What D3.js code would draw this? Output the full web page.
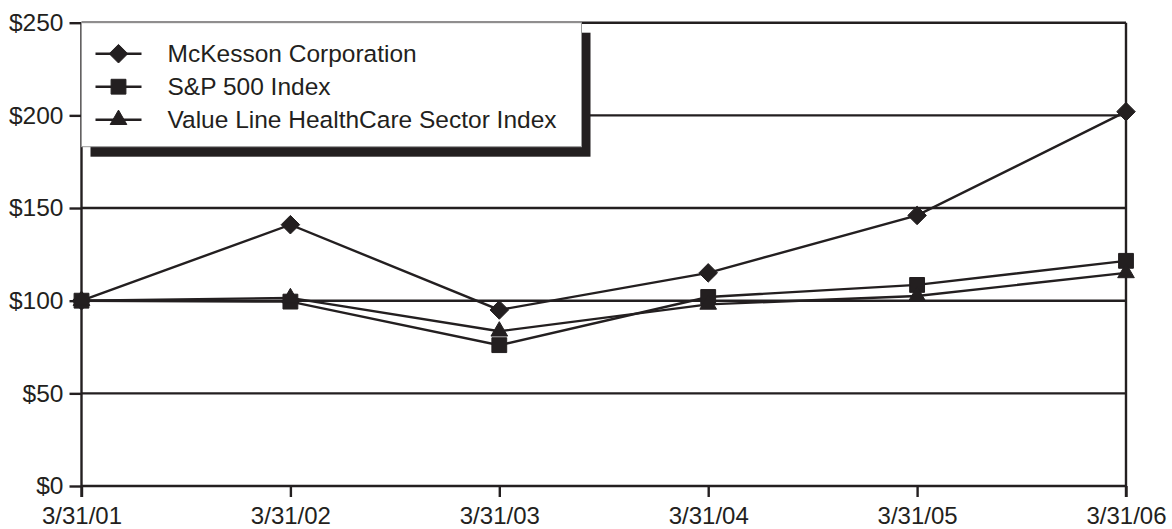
<!DOCTYPE html>
<html>
<head>
<meta charset="utf-8">
<script src="https://cdn.jsdelivr.net/npm/d3@7"></script>
<style>
  body { margin: 0; background: #fff; }
  svg text { font-family: "Liberation Sans", Arial, Helvetica, sans-serif; fill: #231f20; }
</style>
</head>
<body>
<svg id="chart" width="1172" height="529"></svg>
<script>
// Data (value of $100 invested on 3/31/01)
const dates = ["3/31/01", "3/31/02", "3/31/03", "3/31/04", "3/31/05", "3/31/06"]
const mckesson = [100, 141, 95, 115, 146, 202]
const sp500 = [100, 99.5, 76, 102, 108.5, 121.5]
const valueLine = [100, 101.5, 83.5, 98, 102.5, 115]
const yTicks = [0, 50, 100, 150, 200, 250]
const seriesNames = ["McKesson Corporation", "S&P 500 Index", "Value Line HealthCare Sector Index"]

const ink = "#231f20"
const series = [
  { name: seriesNames[0], values: mckesson, symbol: d3.symbolDiamond2, size: 220 },
  { name: seriesNames[1], values: sp500, symbol: d3.symbolSquare, size: 220 },
  { name: seriesNames[2], values: valueLine, symbol: d3.symbolTriangle, size: 120 }
]

const margin = { top: 22.7, right: 46, bottom: 43, left: 81.5 }
const svg = d3.select("#chart")
const width = +svg.attr("width") - margin.left - margin.right
const height = +svg.attr("height") - margin.top - margin.bottom

const g = svg.append("g").attr("transform", `translate(${margin.left},${margin.top})`)

const x = d3.scalePoint().domain(dates).range([0, width])
const y = d3.scaleLinear().domain([0, 250]).range([height, 0])

// Horizontal grid lines
g.append("g")
  .selectAll("line")
  .data(yTicks)
  .join("line")
  .attr("x1", 0).attr("x2", width)
  .attr("y1", d => y(d)).attr("y2", d => y(d))
  .attr("stroke", ink).attr("stroke-width", 2.4)

// Left and right vertical borders
g.append("line").attr("x1", 0).attr("x2", 0).attr("y1", 0).attr("y2", height + 11)
  .attr("stroke", ink).attr("stroke-width", 2.4)
g.append("line").attr("x1", width).attr("x2", width).attr("y1", 0).attr("y2", height + 11)
  .attr("stroke", ink).attr("stroke-width", 2.4)

// Y axis
const yAxis = g.append("g")
  .call(d3.axisLeft(y).tickValues(yTicks).tickSize(12).tickSizeOuter(0).tickPadding(6).tickFormat(d => "$" + d))
yAxis.select(".domain").remove()
yAxis.selectAll(".tick line").attr("stroke", ink).attr("stroke-width", 2.4)
yAxis.selectAll("text").attr("font-size", 24.5).attr("fill", ink)

// X axis
const xAxis = g.append("g")
  .attr("transform", `translate(0,${height})`)
  .call(d3.axisBottom(x).tickSize(11).tickSizeOuter(0).tickPadding(11))
xAxis.select(".domain").remove()
xAxis.selectAll(".tick line").attr("stroke", ink).attr("stroke-width", 2.4)
xAxis.selectAll("text").attr("font-size", 24).attr("fill", ink).attr("dy", "0.68em")

// Series lines and markers
const line = d3.line().x((d, i) => x(dates[i])).y(d => y(d))

series.forEach(s => {
  g.append("path")
    .datum(s.values)
    .attr("fill", "none")
    .attr("stroke", ink)
    .attr("stroke-width", 2.4)
    .attr("d", line)
  g.append("g")
    .selectAll("path")
    .data(s.values)
    .join("path")
    .attr("transform", (d, i) => `translate(${x(dates[i])},${y(d)})`)
    .attr("d", d3.symbol().type(s.symbol).size(s.size))
    .attr("fill", ink)
    .attr("stroke", ink).attr("stroke-width", 1)
})

// Legend box with drop shadow
const legend = svg.append("g").attr("transform", `translate(${margin.left},${margin.top})`)
const legW = 500, legH = 124
legend.append("rect")
  .attr("x", 9).attr("y", 10).attr("width", legW).attr("height", legH)
  .attr("fill", ink)
legend.append("rect")
  .attr("x", 0).attr("y", 0).attr("width", legW).attr("height", legH)
  .attr("fill", "#fff").attr("stroke", "#9a9a9a").attr("stroke-width", 1)

const rows = legend.selectAll(".row")
  .data(series)
  .join("g")
  .attr("class", "row")
  .attr("transform", (d, i) => `translate(0,${31 + i * 33})`)

rows.append("line")
  .attr("x1", 14).attr("x2", 60)
  .attr("stroke", ink).attr("stroke-width", 2.4)
rows.append("path")
  .attr("transform", "translate(37,0)")
  .attr("d", d => d3.symbol().type(d.symbol).size(d.size)())
  .attr("fill", ink)
  .attr("stroke", ink).attr("stroke-width", 1)
rows.append("text")
  .attr("x", 86)
  .attr("dy", "0.35em")
  .attr("font-size", 24.5)
  .text(d => d.name)
</script>
</body>
</html>
